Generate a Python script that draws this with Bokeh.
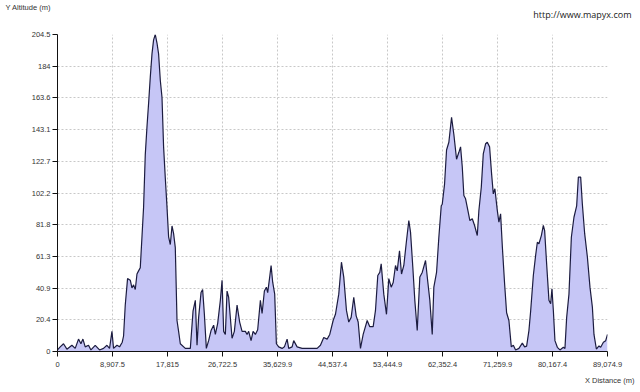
from bokeh.plotting import figure
from bokeh.models import Range1d, FixedTicker, Title, Label
from bokeh.embed import file_html
from bokeh.resources import INLINE

# distance along route (m)
distance = [
    0, 438, 973, 1524, 2334, 2869, 3404, 3793, 4117, 4490, 5025, 5414, 6111, 6808, 7457, 8008,
    8429, 8818, 9078, 9629, 10050, 10488, 10699, 10974, 11347, 11785, 12060, 12320, 12595, 12871,
    13130, 13406, 13681, 13941, 14216, 14492, 14751, 15027, 15303, 15562, 15837, 16113, 16372,
    16648, 16923, 17183, 17458, 17734, 17993, 18269, 18545, 18804, 19079, 19355, 19614, 19890,
    20700, 21511, 21949, 22322, 22597, 22857, 23245, 23505, 23780, 24104, 24477, 24866, 25288,
    25563, 25936, 26374, 26650, 26909, 27185, 27460, 27719, 28270, 28643, 29081, 29502, 29891,
    30426, 30702, 30961, 31350, 31674, 32047, 32420, 32858, 33133, 33506, 33830, 34041, 34365,
    34592, 34852, 35176, 35451, 35824, 36375, 36748, 37186, 37445, 37996, 38256, 38807, 39617,
    40428, 41238, 42049, 42584, 43119, 43670, 44091, 44642, 45015, 45550, 45988, 46361, 46798,
    47171, 47560, 47982, 48371, 48695, 49068, 49505, 50154, 50575, 51126, 51499, 51872, 52196,
    52423, 52845, 53282, 53655, 54044, 54368, 54741, 55017, 55390, 55714, 56087, 56525, 56897,
    57173, 57546, 57870, 58259, 58681, 59070, 59605, 59978, 60302, 60691, 60950, 61388, 61761,
    62150, 62311, 62685, 63009, 63382, 63820, 64193, 64630, 65003, 65279, 65555, 65814, 66089,
    66462, 66786, 67175, 67548, 67986, 68245, 68634, 68958, 69331, 69607, 69979, 70304, 70579,
    70838, 71227, 71487, 71762, 72038, 72410, 72735, 73108, 73497, 73821, 74194, 74729, 75280,
    75653, 75977, 76350, 76626, 77063, 77436, 77712, 77971, 78360, 78684, 78895, 79219, 79592,
    79868, 80078, 80305, 80564, 80953, 81374, 81925, 82185, 82461, 82833, 83222, 83643, 84081,
    84357, 84730, 85005, 85378, 85816, 86237, 86626, 86885, 87274, 87696, 87971, 88409, 88781,
    89074.9,
]

# altitude (m)
altitude = [
    1, 3, 5, 1.5, 4, 2, 8, 5, 8, 3, 4, 1, 4, 1, 2, 4,
    2, 13, 2, 4, 3, 6, 10, 30, 47, 46, 41, 43, 40, 50,
    52, 54, 74, 93, 127, 145, 160, 177, 192, 201, 204.5, 199, 192,
    175, 164, 132, 112, 93, 74, 69, 81, 76, 67, 20, 13, 5,
    2, 2, 26, 33, 4, 22, 38, 40, 24.5, 2, 7, 13.5, 17,
    11, 18, 33, 46, 13, 11, 39, 35, 8.5, 13, 30, 19, 13,
    13, 11, 13, 7, 13, 11, 14, 33, 24.5, 39, 41.5, 38, 48,
    55.5, 44.7, 37, 5, 3, 2, 3, 8, 2, 3, 7, 3, 2,
    2, 2, 2, 4, 9, 8, 11, 20, 24, 37, 57.6, 48, 26.5,
    19, 22, 35, 23, 19, 2, 11, 20, 16, 16, 26.5, 49, 51,
    56.5, 37, 24, 47, 41.5, 44.5, 55.5, 52, 65, 50, 55.5, 71.6, 84.5,
    77, 54.4, 33, 13.5, 48, 51, 58.7, 44.7, 33, 11, 41.5, 51, 73.7,
    94, 95, 108, 130, 135, 151, 140, 124, 128.5, 132, 119, 100.6, 98.5,
    91, 84.5, 85.6, 81.3, 74.8, 91, 106, 127.5, 134, 135, 132, 114.6, 101.7,
    105, 91, 83.4, 88.8, 68, 43.7, 25, 20, 3, 4, 1, 2, 5.4,
    3, 3.5, 13.5, 26, 49, 62, 70.5, 69.5, 74.8, 81.3, 78, 56.5, 33,
    30.8, 40.5, 26.5, 7, 2.7, 1, 2.7, 2, 22, 37, 73.7, 86.6, 94,
    112.5, 112.5, 95, 76, 61, 41.5, 28.6, 11, 1.6, 3.6, 2.7, 6, 7,
    11,
]

x_ticks = [0, 8907.5, 17815, 26722.5, 35629.9, 44537.4, 53444.9, 62352.4, 71259.9, 80167.4, 89074.9]
x_tick_labels = ["0", "8,907.5", "17,815", "26,722.5", "35,629.9", "44,537.4", "53,444.9",
                 "62,352.4", "71,259.9", "80,167.4", "89,074.9"]
y_ticks = [0, 20.4, 40.9, 61.3, 81.8, 102.2, 122.7, 143.1, 163.6, 184, 204.5]
y_tick_labels = ["0", "20.4", "40.9", "61.3", "81.8", "102.2", "122.7", "143.1", "163.6", "184", "204.5"]

FONT = "Liberation Sans"

p = figure(width=640, height=392, output_backend="svg", toolbar_location=None,
           x_range=Range1d(0, 89074.9), y_range=Range1d(0, 204.5),
           min_border_left=57, min_border_right=33, min_border_top=34, min_border_bottom=41)
p.outline_line_color = None
p.background_fill_color = "white"
p.border_fill_color = "white"

p.varea(x=distance, y1=0, y2=altitude, fill_color="#c6c6f6")
p.line(distance, altitude, line_color="#1c1c40", line_width=1.2)

for ax, ticks, labels in ((p.xaxis[0], x_ticks, x_tick_labels), (p.yaxis[0], y_ticks, y_tick_labels)):
    ax.ticker = FixedTicker(ticks=ticks)
    ax.major_label_overrides = {t: l for t, l in zip(ticks, labels)}
    ax.major_label_text_font = FONT
    ax.major_label_text_font_size = "7.5px"
    ax.major_label_text_color = "#333333"
    ax.axis_line_color = "#111111"
    ax.major_tick_line_color = "#111111"
    ax.major_tick_out = 5
    ax.major_tick_in = 0
    ax.minor_tick_line_color = None
p.xaxis[0].major_label_standoff = 5
p.yaxis[0].major_label_standoff = 2

p.xgrid.ticker = FixedTicker(ticks=x_ticks)
p.ygrid.ticker = FixedTicker(ticks=y_ticks)
p.grid.grid_line_color = "#c8c8c8"
p.grid.grid_line_dash = "2 2"
p.grid.grid_line_width = 1

url = Label(x=574, y=20, x_units="screen", y_units="screen", text="http://www.mapyx.com",
            text_font="Open Sans", text_font_size="9px", text_color="#222222",
            text_align="right", text_baseline="middle")
p.add_layout(url, "above")
ylab = Label(x=-52, y=14, x_units="screen", y_units="screen", text="Y Altitude (m)",
             text_font=FONT, text_font_size="7.5px", text_color="#333333",
             text_align="left", text_baseline="middle")
p.add_layout(ylab, "above")
xlab = Title(text="X Distance (m)", align="right", offset=-27, standoff=9,
             text_font=FONT, text_font_size="7.5px", text_color="#333333",
             text_font_style="normal")
p.add_layout(xlab, "below")

open("out.html", "w").write(file_html(p, INLINE))
